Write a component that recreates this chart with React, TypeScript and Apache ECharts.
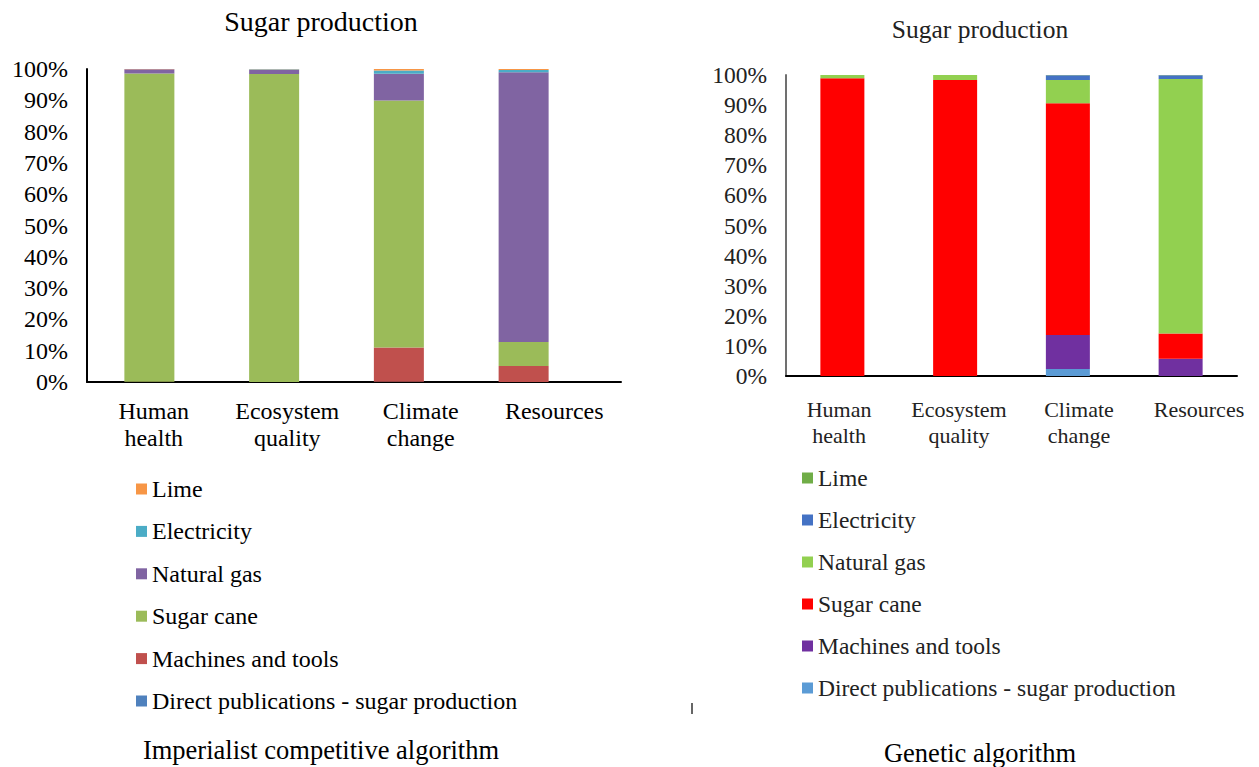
import React, { useEffect, useRef } from "react";
import * as echarts from "echarts";

const categories = ["Human\nhealth", "Ecosystem\nquality", "Climate\nchange", "Resources"];
const seriesNames = ["Direct publications - sugar production", "Machines and tools", "Sugar cane", "Natural gas", "Electricity", "Lime"];
const legendOrder = ["Lime", "Electricity", "Natural gas", "Sugar cane", "Machines and tools", "Direct publications - sugar production"];
const yTicks = [0, 10, 20, 30, 40, 50, 60, 70, 80, 90, 100];

// Imperialist competitive algorithm (left)
const icaDirect = [0, 0, 0.1, 0];
const icaMachines = [0.1, 0, 10.9, 5.1];
const icaSugarCane = [98.5, 98.4, 78.9, 7.7];
const icaNaturalGas = [1.3, 1.4, 8.6, 86.2];
const icaElectricity = [0.05, 0.1, 1.0, 0.7];
const icaLime = [0.05, 0.1, 0.5, 0.3];
const icaColors = ["#4F81BD", "#C0504D", "#9BBB59", "#8064A2", "#4BACC6", "#F79646"];

// Genetic algorithm (right)
const gaDirect = [0, 0, 2.3, 0];
const gaMachines = [0, 0, 11.3, 5.7];
const gaSugarCane = [98.9, 98.3, 77.0, 8.4];
const gaNaturalGas = [1.1, 1.7, 7.7, 84.6];
const gaElectricity = [0, 0, 1.6, 1.2];
const gaLime = [0, 0, 0.1, 0.1];
const gaColors = ["#5B9BD5", "#7030A0", "#FF0000", "#92D050", "#4472C4", "#70AD47"];

const FONT = "'Liberation Serif', 'Times New Roman', serif";

function buildOption(cfg: any) {
  const data = cfg.data;
  return {
    animation: false,
    grid: [
      { left: cfg.gridLeft, top: cfg.gridTop, width: cfg.barGridWidth, height: cfg.gridHeight },
      { left: cfg.labelLeft, top: cfg.gridTop, width: cfg.labelWidth, height: cfg.gridHeight },
    ],
    xAxis: [
      {
        type: "category",
        gridIndex: 0,
        data: categories,
        axisLine: { show: cfg.lineOnBarGrid, lineStyle: { color: "#000", width: 2 } },
        axisTick: { show: false },
        axisLabel: { show: false },
      },
      {
        type: "category",
        gridIndex: 1,
        data: categories,
        axisLine: { show: !cfg.lineOnBarGrid, lineStyle: { color: "#000", width: 2 } },
        axisTick: { show: false },
        axisLabel: {
          color: cfg.textColor,
          fontFamily: FONT,
          fontSize: cfg.catFont,
          lineHeight: cfg.catLineHeight,
          margin: cfg.catMargin,
          interval: 0,
        },
      },
    ],
    yAxis: [
      {
        type: "value",
        gridIndex: 0,
        min: 0,
        max: 100,
        interval: 10,
        axisLine: { show: true, lineStyle: { color: cfg.yLineColor, width: 2 } },
        axisTick: { show: false },
        splitLine: { show: false },
        axisLabel: {
          formatter: (v: number) => (yTicks.includes(v) ? v + "%" : ""),
          color: cfg.textColor,
          fontFamily: FONT,
          fontSize: cfg.tickFont,
          margin: cfg.tickMargin,
        },
      },
      { type: "value", gridIndex: 1, min: 0, max: 100, show: false },
    ],
    legend: {
      orient: "vertical",
      left: cfg.legendLeft,
      top: cfg.legendTop,
      itemWidth: 11,
      itemHeight: 11,
      itemGap: cfg.legendGap,
      icon: "rect",
      data: legendOrder,
      textStyle: { fontFamily: FONT, fontSize: cfg.legendFont, lineHeight: 24, color: cfg.textColor },
    },
    series: seriesNames.map((name, i) => ({
      name,
      type: "bar",
      stack: "total",
      xAxisIndex: 0,
      yAxisIndex: 0,
      barWidth: cfg.barWidth,
      data: data[i],
      itemStyle: { color: cfg.colors[i] },
    })),
    graphic: cfg.graphic,
  };
}

function Chart({ cfg, style }: { cfg: any; style: React.CSSProperties }) {
  const ref = useRef<HTMLDivElement>(null);
  useEffect(() => {
    const chart = echarts.init(ref.current!, null, { renderer: "svg" });
    chart.setOption(buildOption(cfg));
    return () => chart.dispose();
  }, []);
  return <div ref={ref} style={style} />;
}

const leftCfg = {
  data: [icaDirect, icaMachines, icaSugarCane, icaNaturalGas, icaElectricity, icaLime],
  colors: icaColors,
  gridLeft: 87,
  gridTop: 69,
  gridHeight: 313,
  barGridWidth: 499,
  labelLeft: 87,
  labelWidth: 534,
  lineOnBarGrid: false,
  yLineColor: "#000",
  textColor: "#000",
  catFont: 24,
  catLineHeight: 27,
  catMargin: 15,
  tickFont: 24,
  tickMargin: 19,
  barWidth: 50,
  legendLeft: 131,
  legendTop: 472,
  legendGap: 18.4,
  legendFont: 24,
  graphic: [
    { type: "text", x: 321, y: 21, style: { text: "Sugar production", font: `28px ${FONT}`, fill: "#000", textAlign: "center", textVerticalAlign: "middle" } },
    { type: "text", x: 321, y: 750, style: { text: "Imperialist competitive algorithm", font: `26.5px ${FONT}`, fill: "#000", textAlign: "center", textVerticalAlign: "middle" } },
  ],
};

const rightCfg = {
  data: [gaDirect, gaMachines, gaSugarCane, gaNaturalGas, gaElectricity, gaLime],
  colors: gaColors,
  gridLeft: 146,
  gridTop: 75,
  gridHeight: 301,
  barGridWidth: 451,
  labelLeft: 139,
  labelWidth: 494,
  lineOnBarGrid: true,
  yLineColor: "#707070",
  textColor: "#222",
  catFont: 22,
  catLineHeight: 26,
  catMargin: 20,
  tickFont: 23.5,
  tickMargin: 19,
  barWidth: 44,
  legendLeft: 157,
  legendTop: 461,
  legendGap: 18,
  legendFont: 23.5,
  graphic: [
    { type: "text", x: 340, y: 29, style: { text: "Sugar production", font: `25.5px ${FONT}`, fill: "#222", textAlign: "center", textVerticalAlign: "middle" } },
    { type: "text", x: 340, y: 753, style: { text: "Genetic algorithm", font: `26.5px ${FONT}`, fill: "#000", textAlign: "center", textVerticalAlign: "middle" } },
    { type: "line", shape: { x1: 52, y1: 703, x2: 52, y2: 714 }, style: { stroke: "#333", lineWidth: 1.5 } },
  ],
};

export default function App() {
  return (
    <div style={{ position: "fixed", left: 0, top: 0, width: 1259, height: 767, background: "#fff" }}>
      <Chart cfg={leftCfg} style={{ position: "absolute", left: 0, top: 0, width: 640, height: 767 }} />
      <Chart cfg={rightCfg} style={{ position: "absolute", left: 640, top: 0, width: 619, height: 767 }} />
    </div>
  );
}
